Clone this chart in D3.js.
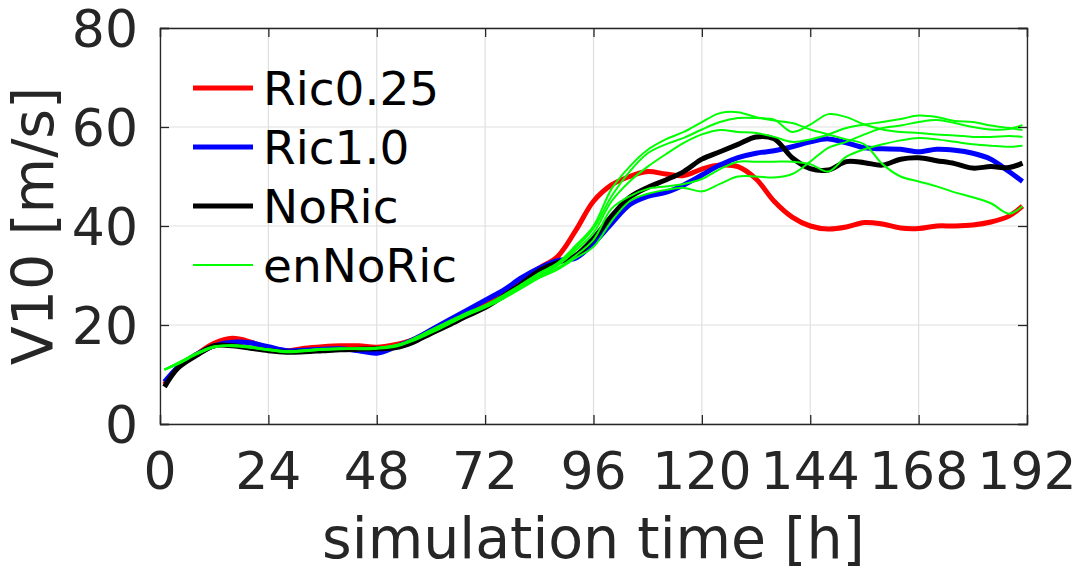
<!DOCTYPE html>
<html>
<head>
<meta charset="utf-8">
<script src="https://cdn.jsdelivr.net/npm/d3@7/dist/d3.min.js"></script>
<style>
  html, body { margin: 0; padding: 0; background: #fff; }
  svg { display: block; }
  text { font-family: "DejaVu Sans", sans-serif; }
</style>
</head>
<body>
<svg id="chart" width="1081" height="571"></svg>
<script>
// Simulation time [h] shared by all runs
const hours = [1,4,8,12,16,20,24,28,32,36,40,44,48,52,56,60,64,68,72,76,80,84,88,92,96,100,104,108,112,116,120,124,128,132,136,140,144,148,152,156,160,164,168,172,176,180,184,188,191];

// 10 m wind speed [m/s]
const ric025 = [8,11.5,14,16.3,17.3,16.6,15.3,14.8,15.3,15.6,15.8,15.8,15.5,16,17,18.8,20.3,22,24,26.2,28.8,31.5,33.8,39,45,48.3,50,51,50.5,50.2,51.5,52.3,52,49.5,45,41.8,40,39.4,39.8,40.7,40.4,39.6,39.5,40,40,40.2,40.8,42,44];
const ric10 = [8.5,11.5,14,15.8,16.5,16.4,15.6,14.8,14.9,15.1,15.2,14.8,14.3,15.5,17,19,21,23,25,27,29.5,31.5,33,33.5,36.5,40.5,44.3,46,46.8,48.3,50.3,52.3,53.8,54.7,55.2,56,57,57.6,56.8,55.8,55.6,55.5,55,55.5,55.3,54.7,53.5,51,49];
const noRic = [7.5,11.3,13.8,15.8,15.8,15.3,14.8,14.5,14.6,14.8,15,15.1,15.2,15.4,16.5,18.3,20,21.8,23.5,25.8,28.3,31,32.6,34,37.5,42,45.8,47.8,49.3,51,53.5,55,56.5,58,57.6,53.8,51.6,51.3,53,52.8,52.3,53.5,53.8,53.2,52.6,51.7,52,51.8,52.7];

// Ensemble members of the NoRic configuration
const enNoRic1 = [11,12.3,14.3,15.6,15.8,15.5,15,14.6,14.9,15.2,15.2,15.3,15.3,15.8,17.2,19,20.8,22.5,24,26,28.2,30.5,32.5,36,40,47.5,52,55.4,57.5,59,61,62.8,63,62,61.3,60.8,59.5,58.5,57.5,56.5,52.5,50,49,48,46.8,45.8,44.6,42.5,44];
const enNoRic2 = [11,12.2,14.1,15.5,15.9,15.6,15.1,14.7,14.8,15,15.1,15.2,15.4,15.9,17,18.7,20.5,22.2,23.8,25.8,28,30.5,32.3,35.5,39.5,46,51,54.7,56.5,57.8,59.5,61,61.8,61.8,61.5,59,60.5,62.6,62,60.5,59.5,59,58.8,58.5,58.3,58,58,58.2,58];
const enNoRic3 = [11,12.4,14.2,15.7,15.7,15.4,14.9,14.6,14.8,15.1,15.3,15.1,15.2,15.6,16.8,18.4,20.2,22,23.6,25.5,27.8,30,32,35,38.6,45,49,52,54.5,56.8,58.5,59.4,59,58.8,58,57,57.5,58.5,59.8,60.5,61,61.6,62.3,62,61.2,61,60.3,59.8,59.4];
const enNoRic4 = [11,12.1,14,15.6,15.9,15.5,15,14.5,14.7,15,15.2,15.2,15.3,15.7,16.9,18.6,20.4,22.1,23.7,25.6,27.6,29.8,31.5,34,37.2,43.5,46,47.5,48,48.5,49.5,51.5,53,53,53,53,52.5,51,54,55.5,56.5,57.3,57.8,57.5,57,56.5,56.2,56,56.2];
const enNoRic5 = [11,12.2,14.1,15.5,15.8,15.6,15.1,14.7,14.9,15.1,15.2,15.3,15.4,15.8,16.9,18.5,20.3,22,23.5,25.3,27.4,29.5,31.2,33.5,35.8,41,45,46.5,47.3,47.7,47,48.5,50,50,49.8,50.5,53,55.8,57,58.5,59.8,60.3,61,61.4,60.8,60,59.5,59.6,60.4];

const xTicks = [0,24,48,72,96,120,144,168,192];
const yTicks = [0,20,40,60,80];
const legendLabels = ["Ric0.25","Ric1.0","NoRic","enNoRic"];

const svg = d3.select("#chart");
const plotLeft = 160, plotRight = 1027, plotTop = 28, plotBottom = 424;

const x = d3.scaleLinear().domain([0,192]).range([plotLeft,plotRight]);
const y = d3.scaleLinear().domain([0,80]).range([plotBottom,plotTop]);

const axisColor = "#262626";
const gridColor = "#dfdfdf";

// grid lines
const grid = svg.append("g");
grid.selectAll("line.gx").data(xTicks).join("line").attr("class","gx")
  .attr("x1", d => x(d)).attr("x2", d => x(d))
  .attr("y1", plotTop).attr("y2", plotBottom)
  .attr("stroke", gridColor).attr("stroke-width", 1.2);
grid.selectAll("line.gy").data(yTicks).join("line").attr("class","gy")
  .attr("y1", d => y(d)).attr("y2", d => y(d))
  .attr("x1", plotLeft).attr("x2", plotRight)
  .attr("stroke", gridColor).attr("stroke-width", 1.2);

// data lines
const line = d3.line().x((d,i) => x(hours[i])).y(d => y(d)).curve(d3.curveCatmullRom);
const plot = svg.append("g");
const thick = [
  {v: ric025, c: "#ff0000"},
  {v: ric10, c: "#0000ff"},
  {v: noRic, c: "#000000"}
];
thick.forEach(s => {
  plot.append("path").attr("d", line(s.v))
    .attr("fill","none").attr("stroke", s.c).attr("stroke-width", 5)
    .attr("stroke-linejoin","round");
});
[enNoRic1, enNoRic2, enNoRic3, enNoRic4, enNoRic5].forEach(v => {
  plot.append("path").attr("d", line(v))
    .attr("fill","none").attr("stroke", "#00ff00").attr("stroke-width", 2)
    .attr("stroke-linejoin","round");
});

// axes (box on all four sides, ticks pointing inward)
const xAxisB = d3.axisBottom(x).tickValues(xTicks).tickSize(-9).tickFormat("");
const xAxisT = d3.axisTop(x).tickValues(xTicks).tickSize(-9).tickFormat("");
const yAxisL = d3.axisLeft(y).tickValues(yTicks).tickSize(-9).tickFormat("");
const yAxisR = d3.axisRight(y).tickValues(yTicks).tickSize(-9).tickFormat("");
function styleAxis(g) {
  g.selectAll("path").attr("stroke", axisColor).attr("stroke-width", 1.3);
  g.selectAll("line").attr("stroke", axisColor).attr("stroke-width", 1.3);
}
svg.append("g").attr("transform", `translate(0,${plotBottom})`).call(xAxisB).call(styleAxis);
svg.append("g").attr("transform", `translate(0,${plotTop})`).call(xAxisT).call(styleAxis);
svg.append("g").attr("transform", `translate(${plotLeft},0)`).call(yAxisL).call(styleAxis);
svg.append("g").attr("transform", `translate(${plotRight},0)`).call(yAxisR).call(styleAxis);

// tick labels
svg.append("g").selectAll("text").data(xTicks).join("text")
  .attr("x", d => x(d)).attr("y", 489)
  .attr("text-anchor","middle").attr("font-size", 52).attr("fill", axisColor)
  .text(d => d);
svg.append("g").selectAll("text").data(yTicks).join("text")
  .attr("x", 138).attr("y", d => y(d) + 19)
  .attr("text-anchor","end").attr("font-size", 52).attr("fill", axisColor)
  .text(d => d);

// axis labels
svg.append("text")
  .attr("x", (plotLeft + plotRight) / 2).attr("y", 558)
  .attr("text-anchor","middle").attr("font-size", 57).attr("fill", axisColor)
  .text("simulation time [h]");
svg.append("text")
  .attr("transform", `translate(53,${(plotTop + plotBottom) / 2}) rotate(-90)`)
  .attr("text-anchor","middle").attr("font-size", 57).attr("fill", axisColor)
  .text("V10 [m/s]");

// legend
const legendColors = ["#ff0000","#0000ff","#000000","#00ff00"];
const legendWidths = [5,5,5,2];
const leg = svg.append("g");
legendLabels.forEach((lab, i) => {
  const ly = 88 + i * 59;
  leg.append("line").attr("x1", 193).attr("x2", 253).attr("y1", ly).attr("y2", ly)
    .attr("stroke", legendColors[i]).attr("stroke-width", legendWidths[i]);
  leg.append("text").attr("x", 263).attr("y", ly + 17)
    .attr("font-size", 47).attr("fill", "#000").text(lab);
});
</script>
</body>
</html>
